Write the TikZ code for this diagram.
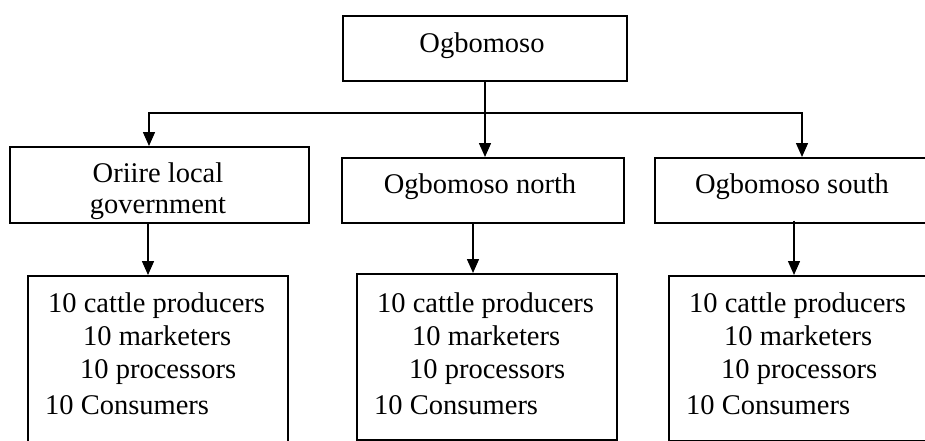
\documentclass[tikz,border=0pt]{standalone}
\usepackage{fontspec}
\setmainfont{Liberation Serif}
\usetikzlibrary{arrows.meta}
\begin{document}
\begin{tikzpicture}[x=1pt,y=-1pt,
  box/.style={draw, line width=1.6pt, rectangle, inner sep=0pt, anchor=north west},
  lbl/.style={inner sep=0pt, anchor=base, font=\fontsize{28.5pt}{34pt}\selectfont},
  line/.style={inner sep=0pt, anchor=base west, font=\fontsize{28.5pt}{34pt}\selectfont},
  arr/.style={line width=1.5pt, -{Triangle[length=14pt,width=12pt]}}]
\useasboundingbox (0,0) rectangle (925,441);
\clip (0,0) rectangle (925,441);

% top level
\node[box, minimum width=284pt, minimum height=65pt] (top) at (342,15) {};
\node[lbl] (toptxt) at (482,53) {Ogbomoso};

% second level
\node[box, minimum width=299pt, minimum height=76pt] (oriire) at (9,146) {};
\node[lbl] (or1) at (158,182) {Oriire local};
\node[lbl] (or2) at (158,213) {government};

\node[box, minimum width=282pt, minimum height=65pt] (north) at (341,157) {};
\node[lbl] (ntxt) at (480,193) {Ogbomoso north};

\node[box, minimum width=290pt, minimum height=65pt] (south) at (654,157) {};
\node[lbl] (stxt) at (792,193) {Ogbomoso south};

% third level
\node[box, minimum width=260pt, minimum height=190pt] (lowL) at (27,275) {};
\node[box, minimum width=260pt, minimum height=166pt] (lowM) at (356,273) {};
\node[box, minimum width=280pt, minimum height=165pt] (lowR) at (668,275) {};

\foreach \b/\x in {L/27, M/356, R/668}{
  \node[line] (c\b) at (\x+21,312) {10 cattle producers};
  \node[line] (m\b) at (\x+56,345) {10 marketers};
  \node[line] (p\b) at (\x+53,378) {10 processors};
  \node[line] (k\b) at (\x+18,414) {10 Consumers};
}

% connectors
\coordinate (j) at (485,113);
\coordinate (xl) at (149,0);
\coordinate (xr) at (802,0);
\draw[arr] (top.south -| j) -- (j |- north.north);
\draw[arr] (j) -- (xl |- j) -- (xl |- oriire.north);
\draw[arr] (j) -- (xr |- j) -- (xr |- south.north);

\coordinate (al) at (148,0);
\coordinate (am) at (473,0);
\coordinate (ar) at (794,0);
\draw[arr] (al |- oriire.south) -- (al |- lowL.north);
\draw[arr] (am |- north.south) -- (am |- lowM.north);
\draw[arr] ([yshift=3pt]ar |- south.south) -- (ar |- lowR.north);
\end{tikzpicture}
\end{document}
